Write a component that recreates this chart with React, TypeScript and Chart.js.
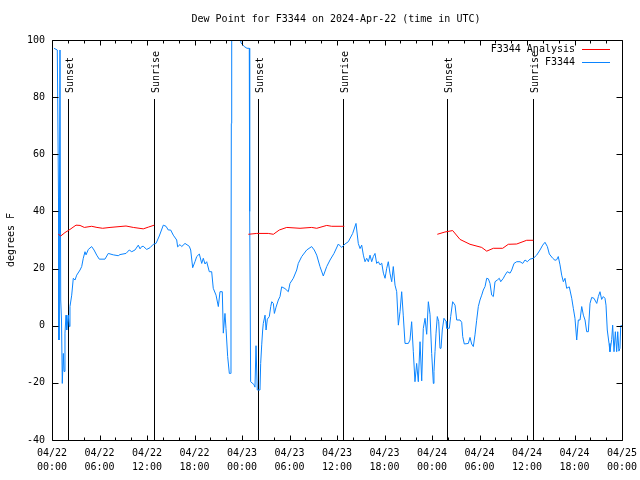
import React, { useEffect, useRef } from "react";
import { Chart, registerables } from "chart.js";

Chart.register(...registerables);

const FONT = "'DejaVu Sans Mono', 'Liberation Mono', monospace";
const TITLE = "Dew Point for F3344 on 2024-Apr-22 (time in UTC)";
const Y_LABEL = "degrees F";
const SERIES_NAMES = ["F3344 Analysis", "F3344"];
const SERIES_COLORS = ["#ff0000", "#0a84ff"];

const tickDays = ["04/22", "04/22", "04/22", "04/22", "04/23", "04/23", "04/23", "04/23", "04/24", "04/24", "04/24", "04/24", "04/25"];
const tickTimes = ["00:00", "06:00", "12:00", "18:00", "00:00", "06:00", "12:00", "18:00", "00:00", "06:00", "12:00", "18:00", "00:00"];

// hours since 2024-04-22 00:00 UTC
const sunEventHours = [2.05, 12.9, 25.96, 36.82, 49.94, 60.8];
const sunEventLabels = ["Sunset", "Sunrise", "Sunset", "Sunrise", "Sunset", "Sunrise"];

const analysisHours = [
  0.8, 1.1, 1.64, 2.27, 3.03, 3.54, 4.08, 5.01, 5.68, 6.4, 7.33, 9.35, 10.27, 11.53, 12.16, 12.92,
  18,
  24.8, 25.86, 27.32, 27.96, 28.71, 29.65, 31.33, 32.8, 33.44, 34.7, 35.33, 36.92,
  42,
  48.67, 49.64, 50.61, 51.54, 52.8, 54.28, 54.91, 55.75, 56.93, 57.64, 58.7, 59.96, 60.8,
];
const analysisValues = [
  32, 31.4, 32.6, 33.7, 35.2, 35.1, 34.4, 34.8, 34.4, 34.1, 34.4, 34.9, 34.4, 33.9, 34.5, 35.2,
  null,
  32, 32.3, 32.3, 32, 33.5, 34.4, 34.1, 34.4, 34.1, 35.1, 34.8, 34.8,
  null,
  32, 32.8, 33.3, 30.2, 28.5, 27.4, 26.1, 27.1, 27.1, 28.5, 28.6, 29.9, 29.9,
];

const stationHours = [
  0.25, 0.67, 0.82, 0.88, 1.01, 1.1, 1.2, 1.3, 1.43, 1.52, 1.64, 1.77, 1.86, 2.06, 2.19, 2.27, 2.49, 2.69, 2.91, 3.12,
  3.54, 3.75, 3.95, 4.17, 4.3, 4.59, 5.01, 5.31, 5.65, 5.97, 6.69, 7.11, 7.74, 8.37, 8.59, 9.35, 9.76, 10.07, 10.48, 10.9,
  11.12, 11.33, 11.53, 11.96, 12.38, 12.8, 13.14, 13.55, 14.06, 14.4, 14.69, 14.99, 15.32, 15.75, 15.87, 16.17, 16.38, 16.8, 17.34, 17.52,
  17.77, 18.06, 18.28, 18.61, 18.91, 19.11, 19.33, 19.54, 19.87, 20.17, 20.37, 20.72, 21.01, 21.22, 21.51, 21.64, 21.85, 21.98, 22.19, 22.4,
  22.57, 22.61, 22.65, 22.7, 23.2, 23.66, 23.87, 24.29, 24.63, 24.92, 24.97, 25.09, 25.51, 25.64, 25.77, 25.85, 25.93, 26.27, 26.36, 26.49,
  26.61, 26.69, 26.91, 27.04, 27.2, 27.45, 27.63, 27.76, 27.96, 28.09, 28.3, 28.59, 28.8, 29.01, 29.43, 29.85, 30.06, 30.48, 30.91, 31.11,
  31.54, 32.17, 32.8, 33.13, 33.44, 33.85, 34.27, 34.7, 35.12, 35.62, 36.17, 36.59, 37.01, 37.43, 37.98, 38.4, 38.69, 38.91, 39.12, 39.33,
  39.54, 39.75, 39.96, 40.17, 40.38, 40.59, 40.8, 41.01, 41.22, 41.43, 41.65, 41.86, 42.07, 42.28, 42.48, 42.69, 42.91, 43.11, 43.33, 43.54,
  43.75, 43.96, 44.17, 44.37, 44.59, 45.01, 45.22, 45.43, 45.64, 45.85, 46.06, 46.27, 46.49, 46.7, 46.9, 47.12, 47.33, 47.54, 47.75, 47.96,
  48.17, 48.25, 48.38, 48.51, 48.67, 48.85, 49.01, 49.14, 49.3, 49.51, 49.77, 49.86, 50.19, 50.36, 50.61, 50.91, 51.12, 51.54, 51.75, 51.88,
  52.08, 52.59, 52.8, 53.01, 53.22, 53.43, 53.64, 53.85, 54.06, 54.28, 54.48, 54.7, 54.91, 55.12, 55.33, 55.54, 55.75, 55.96, 56.25, 56.5,
  56.68, 57.01, 57.22, 57.51, 57.86, 58.07, 58.36, 58.7, 59.12, 59.46, 59.75, 60.04, 60.38, 60.8, 61.22, 61.64, 61.98, 62.27, 62.57, 62.82,
  63.25, 63.54, 63.75, 63.95, 64.17, 64.38, 64.59, 64.8, 65.01, 65.34, 65.65, 65.85, 66.06, 66.28, 66.48, 66.7, 66.91, 67.12, 67.33, 67.54,
  67.75, 67.96, 68.17, 68.46, 68.81, 69.01, 69.22, 69.43, 69.64, 69.85, 69.98, 70.14, 70.36, 70.48, 70.7, 70.82, 70.99, 71.16, 71.33, 71.46,
  71.61, 71.74, 71.84, 72.0,
];
const stationValues = [
  97.1, 96.5, 45, -5, 96.5, 9, 2, -20.2, -9.7, -16, -2.6, 3.7, -1.5, 3.7, -0.3, 6.7, 10.7, 16.6, 16, 17.7,
  19.5, 20.7, 23.6, 25.9, 24.8, 26.7, 27.7, 26.5, 24.7, 23.3, 23.3, 25.3, 24.8, 24.5, 24.9, 25.3, 26.5, 25.9, 26.5, 28.2,
  26.9, 27.7, 27.8, 26.7, 27.3, 28.5, 28.8, 31.4, 35.2, 34.8, 33.5, 33.5, 31.7, 30, 27.6, 28.4, 27.7, 28.8, 27.8, 26.5,
  20.3, 22.4, 24.2, 25.1, 21.8, 23.6, 21.6, 22.4, 18.9, 18.9, 13.1, 10.7, 6.7, 11.9, 11.9, -2.6, 4.3, -1, -10.8, -16.7,
  -16.7, 12.5, 70.8, 115, 118, 105, 99, 97.7, 97.1, 97.1, 40, -19.6, -20.6, -21.5, -7, -7, -22.5, -22.5, -13.2, -6.7,
  -1.5, 0.8, 3.7, -1.5, 2.3, 3.2, 6.7, 8.4, 7.8, 4.3, 6.5, 9, 10.2, 13.6, 13, 11.9, 14.8, 16.6, 19.5, 21.8,
  24.2, 26.5, 27.7, 26.5, 24.7, 20.7, 17.4, 20.7, 23, 25.3, 28.6, 27.4, 28.6, 29.4, 32.3, 35.8, 28.8, 27, 28.2, 24.7,
  22.4, 23.6, 22.4, 24.7, 22.4, 24.2, 25.3, 21.8, 22.4, 21.3, 21.9, 18.4, 16.6, 20.1, 22.4, 18.4, 15.4, 20.7, 14.2, 11.9,
  0.2, 4.9, 11.9, 3.7, -6.2, -6.2, -5, 1.4, -9.1, -19.6, -13.2, -19.6, -5.6, -19.3, -1, 2.6, -3, 8.4, 4, -9.7,
  -20.2, -16, -9.1, -2.6, 3.2, 1.4, -7.9, -7.9, -1.5, 2.6, 1.5, -0.9, -0.9, 3.2, 8.4, 7.2, 2, 2, 1.2, -3.8,
  -6.4, -6.2, -4.1, -6.4, -7.3, -3.2, 1.9, 6.7, 9, 10.7, 12.5, 13.7, 16.6, 16.4, 14.8, 10.7, 10.2, 15.4, 16, 16.6,
  15.4, 16.6, 17.7, 18.9, 18.4, 19.5, 21.8, 22.4, 22.4, 21.8, 23, 22.4, 23.3, 23.6, 24.7, 26.5, 28.2, 29.2, 27.7, 25.1,
  23.6, 22.9, 23.1, 24.2, 21.3, 17.7, 15.4, 16.6, 13.1, 13.6, 9.6, 6.1, 2.6, -5, 2, 2, 6.7, 3.7, 2, -2.1,
  -2.1, 7.8, 9.9, 9.6, 7.8, 10.2, 11.9, 9.2, 10.2, 9.6, 7.2, -1.5, -6.2, -9.1, -4.8, 0.2, -9.1, -2.1, -9.1, -2.1,
  -8.9, -7.9, 0, 0,
];

const X_MIN = 0;
const X_MAX = 72;
const Y_MIN = -40;
const Y_MAX = 100;

const decorPlugin = {
  id: "gnuplotDecor",
  beforeDatasetsDraw(chart: any) {
    const ctx = chart.ctx;
    const xs = chart.scales.x;
    const ys = chart.scales.y;
    ctx.save();
    ctx.strokeStyle = "#000";
    ctx.fillStyle = "#000";
    ctx.lineWidth = 1;
    ctx.font = `10px ${FONT}`;
    const yTop = Math.round(ys.getPixelForValue(79.4));
    const yBot = Math.round(ys.getPixelForValue(Y_MIN));
    sunEventHours.forEach((h, i) => {
      const px = Math.round(xs.getPixelForValue(h)) + 0.5;
      ctx.beginPath();
      ctx.moveTo(px, yTop);
      ctx.lineTo(px, yBot);
      ctx.stroke();
      ctx.save();
      ctx.translate(px + 1.5, yTop - 6);
      ctx.rotate(-Math.PI / 2);
      ctx.textAlign = "left";
      ctx.textBaseline = "middle";
      ctx.fillText(sunEventLabels[i], 0, 0);
      ctx.restore();
    });
    ctx.restore();
  },
  afterDraw(chart: any) {
    const ctx = chart.ctx;
    const xs = chart.scales.x;
    const ys = chart.scales.y;
    const { left, right, top, bottom } = chart.chartArea;
    ctx.save();
    ctx.strokeStyle = "#000";
    ctx.lineWidth = 1;
    const L = Math.round(left) + 0.5;
    const R = Math.round(right) + 0.5;
    const T = Math.round(top) + 0.5;
    const B = Math.round(bottom) + 0.5;
    ctx.beginPath();
    ctx.rect(L, T, R - L, B - T);
    ctx.stroke();
    ctx.beginPath();
    for (let h = X_MIN; h <= X_MAX; h += 2) {
      const px = Math.round(xs.getPixelForValue(h)) + 0.5;
      const len = h % 6 === 0 ? 5 : 3;
      ctx.moveTo(px, B);
      ctx.lineTo(px, B - len);
      ctx.moveTo(px, T);
      ctx.lineTo(px, T + len);
    }
    for (let v = Y_MIN; v <= Y_MAX; v += 20) {
      const py = Math.round(ys.getPixelForValue(v)) + 0.5;
      ctx.moveTo(L, py);
      ctx.lineTo(L + 6, py);
      ctx.moveTo(R, py);
      ctx.lineTo(R - 6, py);
    }
    ctx.stroke();

    // title
    ctx.fillStyle = "#000";
    ctx.font = `10px ${FONT}`;
    ctx.textAlign = "center";
    ctx.textBaseline = "middle";
    ctx.fillText(TITLE, 336, 19);

    // y axis label
    ctx.save();
    ctx.translate(11, (top + bottom) / 2);
    ctx.rotate(-Math.PI / 2);
    ctx.fillText(Y_LABEL, 0, 0);
    ctx.restore();

    // legend
    const rowsY = [49, 62];
    SERIES_NAMES.forEach((name, i) => {
      ctx.textAlign = "right";
      ctx.fillStyle = "#000";
      ctx.fillText(name, 575, rowsY[i]);
      ctx.strokeStyle = SERIES_COLORS[i];
      ctx.beginPath();
      ctx.moveTo(582, rowsY[i] + 0.5);
      ctx.lineTo(610, rowsY[i] + 0.5);
      ctx.stroke();
    });
    ctx.restore();
  },
};

export default function App() {
  const ref = useRef<HTMLCanvasElement | null>(null);
  useEffect(() => {
    if (!ref.current) return;
    const toPoints = (hs: number[], vs: (number | null)[]) => hs.map((h, i) => ({ x: h, y: vs[i] }));
    const chart = new Chart(ref.current, {
      type: "line",
      data: {
        datasets: [
          {
            label: SERIES_NAMES[0],
            data: toPoints(analysisHours, analysisValues) as any,
            borderColor: SERIES_COLORS[0],
            borderWidth: 1,
            pointRadius: 0,
            tension: 0,
            spanGaps: false,
          },
          {
            label: SERIES_NAMES[1],
            data: toPoints(stationHours, stationValues) as any,
            borderColor: SERIES_COLORS[1],
            borderWidth: 1,
            pointRadius: 0,
            tension: 0,
            spanGaps: false,
          },
        ],
      },
      options: {
        animation: false,
        responsive: false,
        devicePixelRatio: 1,
        events: [],
        layout: { padding: { top: 40, right: 18, left: 0, bottom: 0 } },
        plugins: { legend: { display: false }, tooltip: { enabled: false }, title: { display: false } },
        scales: {
          x: {
            type: "linear",
            min: X_MIN,
            max: X_MAX,
            grid: { display: false, drawTicks: false },
            border: { display: false },
            afterFit: (s: any) => {
              s.height = 40;
              s.paddingLeft = 0;
              s.paddingRight = 0;
            },
            ticks: {
              stepSize: 6,
              autoSkip: false,
              maxRotation: 0,
              padding: 6,
              color: "#000",
              font: { family: FONT, size: 10, lineHeight: 1.4 },
              callback: (_v: any, i: number) => [tickDays[i], tickTimes[i]],
            },
          },
          y: {
            type: "linear",
            min: Y_MIN,
            max: Y_MAX,
            grid: { display: false, drawTicks: false },
            border: { display: false },
            afterFit: (s: any) => {
              s.width = 52;
              s.paddingTop = 0;
              s.paddingBottom = 0;
            },
            ticks: {
              stepSize: 20,
              padding: 7,
              color: "#000",
              font: { family: FONT, size: 10 },
            },
          },
        },
      },
      plugins: [decorPlugin],
    });
    return () => chart.destroy();
  }, []);
  return (
    <canvas
      ref={ref}
      width={640}
      height={480}
      style={{ position: "fixed", left: 0, top: 0, width: 640, height: 480, background: "#fff" }}
    />
  );
}
